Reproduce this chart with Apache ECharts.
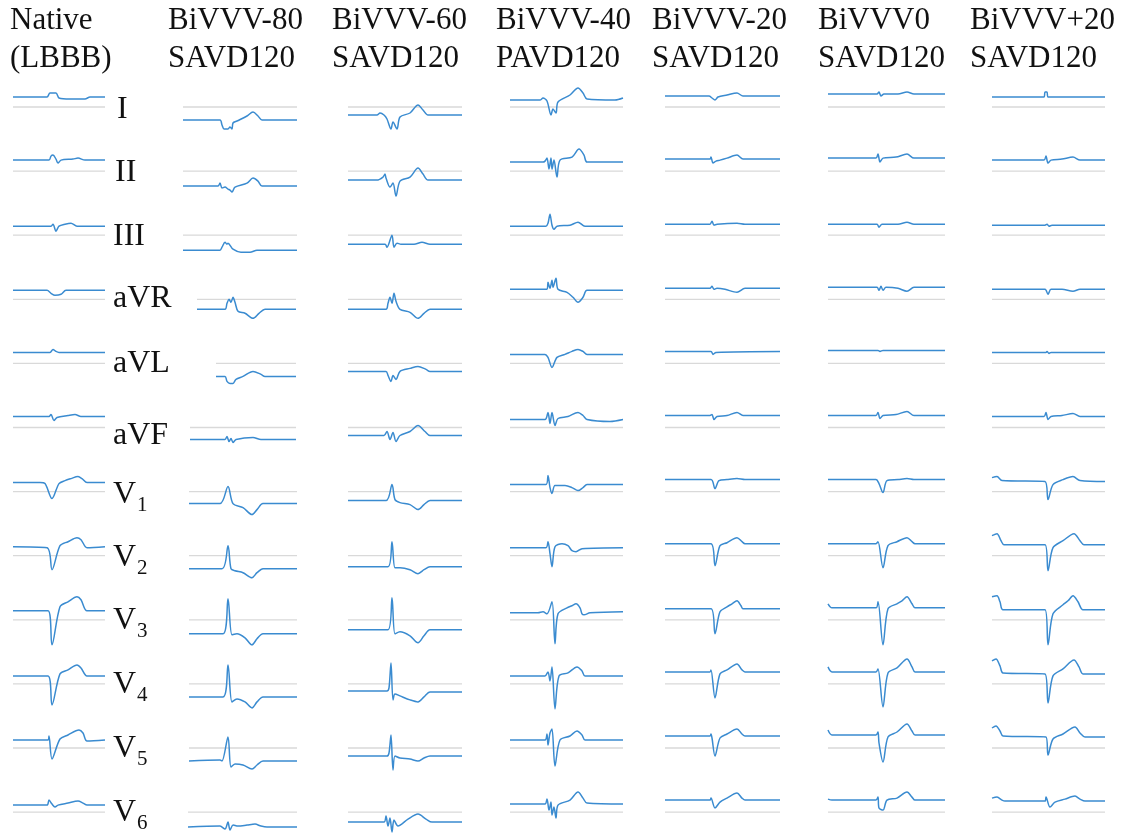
<!DOCTYPE html>
<html>
<head>
<meta charset="utf-8">
<script src="https://cdn.jsdelivr.net/npm/echarts@6/dist/echarts.min.js"></script>
<style>
  html, body { margin: 0; padding: 0; background: #ffffff; }
  #chart { width: 1125px; height: 837px; }
</style>
</head>
<body>
<div id="chart"></div>
<script>
// Pacing configurations (columns) and ECG leads (rows)
const columnTitles = [
  ["Native", "(LBBB)"],
  ["BiVVV-80", "SAVD120"],
  ["BiVVV-60", "SAVD120"],
  ["BiVVV-40", "PAVD120"],
  ["BiVVV-20", "SAVD120"],
  ["BiVVV0", "SAVD120"],
  ["BiVVV+20", "SAVD120"]
];
const leadNames = ["I", "II", "III", "aVR", "aVL", "aVF", "V1", "V2", "V3", "V4", "V5", "V6"];

// Length of the recorded beat window for each configuration (time units)
const windowLen = [92, 114, 114, 113, 115, 117, 113];

// One averaged beat per lead: [time, amplitude] samples, amplitude relative to the reference line
const nativeLBBB = [
  [[0,10],[34,10],[37,14],[43,14],[46,9],[57,8],[72,8],[77,10],[92,10]],
  [[0,11],[36,11],[38,15],[40,16],[43,12],[45,8],[48,11],[60,12],[65,13],[72,11],[92,11]],
  [[0,9],[38,9],[40,11],[43,4],[46,9],[52,11],[58,12],[64,9],[92,9]],
  [[0,9],[34,9],[38,6],[42,4],[48,5],[53,9],[92,9]],
  [[0,11],[37,11],[40,14],[43,12],[46,11],[92,11]],
  [[0,11],[36,11],[38,13],[41,7],[44,10],[55,12],[62,13],[68,11],[92,11]],
  [[0,9],[27,9],[32,8],[39,-7],[46,8],[52,11],[58,13],[65,15],[69,13],[74,9],[92,9]],
  [[0,9],[34,8],[39,-14],[47,10],[55,14],[64,18],[68,16],[74,8],[92,9]],
  [[0,9],[35,9],[39,-25],[47,13],[55,18],[64,23],[68,20],[74,9],[92,9]],
  [[0,8],[35,8],[39,-21],[47,10],[55,14],[64,19],[68,16],[74,8],[92,8]],
  [[0,8],[35,8],[36,12],[39,-11],[47,9],[55,13],[66,18],[70,15],[74,7],[92,8]],
  [[0,7],[34,7],[36,12],[39,8],[42,5],[45,7],[55,9],[65,11],[70,9],[74,7],[92,7]]
];
const bivvvM80 = [
  [[0,-13],[37,-13],[39,-18],[41,-22],[45,-22],[47,-20],[49,-22],[50,-16],[54,-14],[64,-9],[70,-5],[75,-9],[79,-13],[114,-13]],
  [[0,-15],[35,-15],[37,-12],[39,-17],[42,-16],[45,-18],[47,-19],[49,-21],[52,-16],[64,-12],[70,-7],[75,-10],[79,-15],[114,-15]],
  [[0,-15],[37,-15],[39,-12],[42,-7],[44,-9],[45,-8],[50,-14],[58,-17],[67,-17],[74,-15],[114,-15]],
  [[14,-10],[42,-10],[44,-4],[46,0],[48,-3],[50,2],[52,-3],[55,-12],[62,-14],[70,-19],[76,-14],[82,-10],[113,-10]],
  [[33,-13],[42,-13],[44,-18],[47,-20],[50,-20],[53,-16],[60,-13],[70,-8],[78,-11],[82,-13],[113,-13]],
  [[7,-12],[42,-12],[44,-9],[46,-14],[48,-11],[50,-15],[53,-12],[70,-10],[78,-12],[113,-12]],
  [[6,-12],[37,-12],[45,5],[50,-12],[60,-16],[69,-23],[74,-18],[80,-12],[114,-12]],
  [[6,-13],[39,-13],[45,10],[48,-13],[52,-15],[60,-17],[69,-22],[74,-17],[80,-13],[114,-13]],
  [[6,-14],[40,-14],[45,21],[49,-15],[54,-14],[62,-18],[69,-25],[74,-19],[80,-14],[114,-14]],
  [[6,-13],[40,-13],[45,19],[49,-18],[54,-15],[62,-18],[69,-24],[74,-18],[80,-13],[114,-13]],
  [[6,-13],[37,-12],[39,-13],[45,11],[48,-19],[52,-16],[60,-17],[69,-21],[74,-17],[80,-13],[114,-13]],
  [[5,-15],[37,-14],[42,-17],[45,-10],[47,-18],[50,-13],[55,-14],[64,-13],[72,-12],[78,-14],[84,-15],[114,-15]]
];
const bivvvM60 = [
  [[0,-8],[29,-8],[32,-6],[36,-8],[39,-12],[43,-22],[45,-15],[49,-22],[52,-10],[62,-6],[70,2],[75,-3],[80,-8],[114,-8]],
  [[0,-9],[29,-9],[35,-6],[37,-3],[38,-7],[42,-16],[45,-12],[48,-25],[52,-10],[62,-6],[70,3],[75,-3],[80,-9],[114,-9]],
  [[0,-9],[37,-9],[39,-12],[44,0],[46,-12],[49,-8],[53,-9],[66,-9],[74,-7],[82,-9],[114,-9]],
  [[0,-10],[38,-10],[40,-4],[42,2],[44,-4],[46,6],[48,-2],[52,-10],[62,-13],[70,-19],[76,-14],[82,-10],[114,-10]],
  [[0,-8],[38,-8],[40,-12],[43,-18],[45,-12],[48,-16],[52,-8],[62,-5],[70,-3],[78,-6],[82,-8],[114,-8]],
  [[0,-8],[36,-8],[39,-4],[42,-12],[45,-5],[48,-14],[52,-8],[62,-4],[70,2],[77,-4],[82,-8],[114,-8]],
  [[0,-9],[38,-9],[44,7],[47,-8],[52,-11],[62,-13],[70,-18],[76,-13],[82,-9],[114,-9]],
  [[0,-11],[40,-11],[44,14],[47,-12],[52,-12],[62,-14],[70,-18],[76,-14],[82,-11],[114,-11]],
  [[0,-10],[40,-10],[44,22],[47,-14],[52,-12],[62,-16],[70,-23],[76,-16],[82,-10],[114,-10]],
  [[0,-7],[39,-7],[41,-4],[43,21],[45,-16],[47,-10],[52,-12],[62,-16],[70,-18],[76,-13],[82,-8],[114,-8]],
  [[0,-8],[39,-8],[41,-5],[43,13],[45,-22],[47,-8],[52,-10],[62,-11],[70,-13],[76,-10],[82,-8],[114,-8]],
  [[0,-10],[36,-10],[38,-4],[40,-14],[42,-6],[44,-20],[46,-8],[50,-14],[60,-7],[70,-2],[78,-7],[84,-10],[114,-10]]
];
const bivvvM40 = [
  [[0,7],[30,7],[33,9],[37,6],[41,-8],[43,-2],[46,-6],[48,5],[60,12],[68,19],[73,14],[77,8],[105,7],[113,9]],
  [[0,9],[33,9],[35,10],[37,13],[39,2],[41,13],[42,2],[44,11],[47,-6],[50,11],[62,14],[69,22],[74,16],[77,9],[113,9]],
  [[0,9],[36,9],[38,12],[40,21],[42,10],[44,6],[47,9],[60,10],[68,13],[75,9],[113,9]],
  [[0,10],[37,10],[38,17],[40,11],[42,19],[43,12],[46,21],[48,10],[57,7],[63,2],[68,-3],[73,2],[77,9],[113,9]],
  [[0,9],[35,9],[38,6],[42,-4],[47,6],[55,9],[62,12],[68,14],[73,12],[77,9],[113,9]],
  [[0,8],[35,8],[38,15],[40,4],[42,15],[45,2],[48,9],[58,11],[68,15],[73,12],[77,8],[100,6],[113,8]],
  [[0,7],[36,7],[38,16],[40,4],[42,-2],[45,6],[55,6],[62,4],[68,1],[73,4],[77,7],[113,7]],
  [[0,8],[36,8],[38,14],[40,2],[42,-11],[45,9],[52,12],[58,10],[62,5],[66,4],[72,7],[113,8]],
  [[0,7],[28,7],[33,8],[37,6],[42,18],[45,-24],[48,6],[57,12],[62,14],[66,16],[70,12],[72,6],[74,5],[80,7],[113,8]],
  [[0,8],[35,8],[38,12],[40,3],[42,17],[45,-25],[49,8],[58,11],[67,17],[72,13],[75,8],[113,8]],
  [[0,8],[35,8],[37,14],[38,3],[40,15],[42,19],[45,-18],[50,8],[60,12],[67,17],[72,13],[75,8],[113,8]],
  [[0,8],[35,8],[37,13],[39,2],[41,10],[42,-3],[44,5],[46,-6],[48,7],[60,12],[68,20],[73,14],[77,9],[113,8]]
];
const bivvvM20 = [
  [[0,11],[44,11],[47,9],[50,7],[53,10],[62,12],[72,14],[78,11],[115,11]],
  [[0,12],[45,12],[46,14],[48,8],[51,10],[55,11],[62,13],[72,16],[78,12],[115,12]],
  [[0,11],[45,11],[47,14],[49,10],[52,11],[72,12],[80,11],[115,11]],
  [[0,11],[45,11],[47,13],[49,10],[52,11],[60,10],[72,7],[80,11],[115,11]],
  [[0,12],[46,12],[48,9],[51,11],[115,12]],
  [[0,12],[45,12],[47,13],[49,8],[52,11],[62,12],[72,15],[78,12],[115,12]],
  [[0,12],[46,12],[50,3],[54,11],[62,12],[72,13],[80,12],[115,12]],
  [[0,12],[46,12],[50,-10],[55,10],[62,13],[72,18],[77,14],[80,12],[115,12]],
  [[0,11],[46,11],[50,-14],[55,8],[62,13],[67,16],[72,19],[76,14],[78,11],[115,11]],
  [[0,12],[45,12],[46,14],[50,-14],[55,10],[62,14],[72,20],[77,14],[80,12],[115,12]],
  [[0,12],[45,12],[46,14],[47,10],[50,-8],[55,10],[62,14],[72,19],[77,14],[80,12],[115,12]],
  [[0,12],[45,12],[46,14],[50,4],[55,10],[62,14],[72,19],[77,14],[80,12],[115,12]]
];
const bivvv0 = [
  [[0,13],[49,13],[51,15],[53,11],[56,13],[70,13],[79,15],[86,13],[117,13]],
  [[0,13],[48,13],[50,17],[52,9],[55,13],[68,14],[79,17],[86,13],[117,13]],
  [[0,11],[49,11],[51,8],[54,11],[70,11],[79,13],[86,11],[117,11]],
  [[0,12],[49,12],[51,9],[53,13],[55,9],[58,12],[70,11],[79,8],[86,12],[117,12]],
  [[0,13],[50,13],[52,12],[55,13],[117,13]],
  [[0,12],[48,12],[50,15],[52,9],[55,12],[68,13],[79,16],[86,12],[117,12]],
  [[0,12],[48,12],[51,8],[55,-1],[59,11],[70,12],[79,13],[86,12],[117,12]],
  [[0,12],[48,12],[50,14],[55,-12],[60,10],[69,14],[79,18],[84,14],[87,12],[117,12]],
  [[0,16],[4,12],[48,12],[50,18],[55,-25],[60,11],[69,16],[74,19],[79,23],[84,16],[87,12],[117,12]],
  [[0,17],[4,12],[48,12],[50,15],[55,-23],[60,11],[69,16],[79,25],[84,17],[87,12],[117,12]],
  [[0,18],[4,13],[48,13],[50,16],[51,5],[55,-14],[60,11],[69,16],[79,24],[84,17],[87,13],[117,13]],
  [[0,13],[4,12],[48,12],[50,15],[51,4],[55,2],[59,12],[69,14],[79,20],[84,15],[87,12],[117,12]]
];
const bivvvP20 = [
  [[0,10],[52,10],[53,15],[55,15],[56,10],[113,10]],
  [[0,11],[52,11],[54,15],[56,8],[59,11],[70,12],[81,14],[88,11],[113,11]],
  [[0,10],[53,10],[55,11],[57,9],[60,10],[113,10]],
  [[0,10],[53,10],[56,5],[59,10],[70,10],[81,8],[88,10],[113,10]],
  [[0,11],[54,11],[55,12],[57,10],[59,11],[113,11]],
  [[0,11],[52,11],[54,15],[56,8],[59,11],[70,12],[81,14],[88,11],[113,11]],
  [[0,14],[5,15],[10,11],[53,10],[56,-8],[61,7],[71,12],[81,15],[88,11],[113,10]],
  [[0,20],[5,22],[9,15],[12,11],[53,11],[56,-15],[61,8],[71,15],[82,22],[88,15],[92,11],[113,11]],
  [[0,23],[5,24],[8,18],[11,10],[53,10],[56,-25],[61,6],[71,15],[76,19],[81,24],[86,18],[91,10],[113,10]],
  [[0,23],[4,25],[8,18],[11,11],[53,10],[56,-19],[61,8],[71,15],[82,24],[87,17],[91,10],[113,10]],
  [[0,20],[4,22],[8,17],[11,12],[54,11],[56,-7],[61,9],[71,14],[83,21],[88,15],[93,11],[113,11]],
  [[0,14],[5,15],[10,12],[13,11],[53,11],[54,15],[58,5],[63,10],[73,13],[83,16],[88,13],[93,11],[113,11]]
];

const beats = [nativeLBBB, bivvvM80, bivvvM60, bivvvM40, bivvvM20, bivvv0, bivvvP20];

// ---- layout ----
const colLeft = [13, 183, 348, 510, 665, 828, 992];
const colWidth = [92, 114, 114, 113, 115, 117, 113];
const titleX = [10, 168, 332, 496, 652, 818, 970];
const firstRefY = 107, rowStep = 64.1;
const spanUp = 40, spanDown = 24;          // visible amplitude range above / below the reference line
const labelX = [117, 115, 113, 113, 113, 113, 113, 113, 113, 113, 113, 113];
const labelY = [110, 173, 237, 299, 364, 436, 495, 558, 621, 685, 749, 813];

const traceColor = '#3a8bd0';
const refColor = '#d9d9d9';
const serif = 'Liberation Serif';

const grids = [], xAxes = [], yAxes = [], series = [], graphics = [];

beats.forEach((col, c) => {
  col.forEach((pts, r) => {
    const idx = grids.length;
    const refY = firstRefY + rowStep * r;
    grids.push({ left: colLeft[c], width: colWidth[c], top: refY - spanUp, height: spanUp + spanDown });
    xAxes.push({ type: 'value', gridIndex: idx, min: 0, max: windowLen[c], show: false });
    yAxes.push({ type: 'value', gridIndex: idx, min: -spanDown, max: spanUp, show: false });
    const t0 = pts[0][0], t1 = pts[pts.length - 1][0];
    series.push({
      type: 'line', xAxisIndex: idx, yAxisIndex: idx, silent: true, symbol: 'none', clip: false,
      data: [[t0, 0], [t1, 0]], lineStyle: { color: refColor, width: 1.3 }, z: 1
    });
    series.push({
      type: 'line', xAxisIndex: idx, yAxisIndex: idx, silent: true, symbol: 'none', clip: false,
      smooth: 0.3,
      data: pts, lineStyle: { color: traceColor, width: 1.5 }, z: 2
    });
  });
});

function addText(txt, x, y, size) {
  graphics.push({
    type: 'text', x: x, y: y,
    style: { text: txt, fontSize: size, fontFamily: serif, fill: '#111',
             textVerticalAlign: 'middle', verticalAlign: 'middle' }
  });
}

// column titles
columnTitles.forEach((lines, c) => {
  lines.forEach((txt, k) => addText(txt, titleX[c], 21 + k * 38, 31));
});

// lead labels (precordial leads with subscript numbers)
leadNames.forEach((name, r) => {
  if (name[0] === 'V') {
    addText('V', labelX[r], labelY[r], 32);
    addText(name.slice(1), labelX[r] + 24, labelY[r] + 10, 21);
  } else {
    addText(name, labelX[r], labelY[r], 32);
  }
});

const chart = echarts.init(document.getElementById('chart'), null, { renderer: 'canvas' });
chart.setOption({
  backgroundColor: '#ffffff',
  animation: false,
  grid: grids,
  xAxis: xAxes,
  yAxis: yAxes,
  series: series,
  graphic: graphics
});
</script>
</body>
</html>
